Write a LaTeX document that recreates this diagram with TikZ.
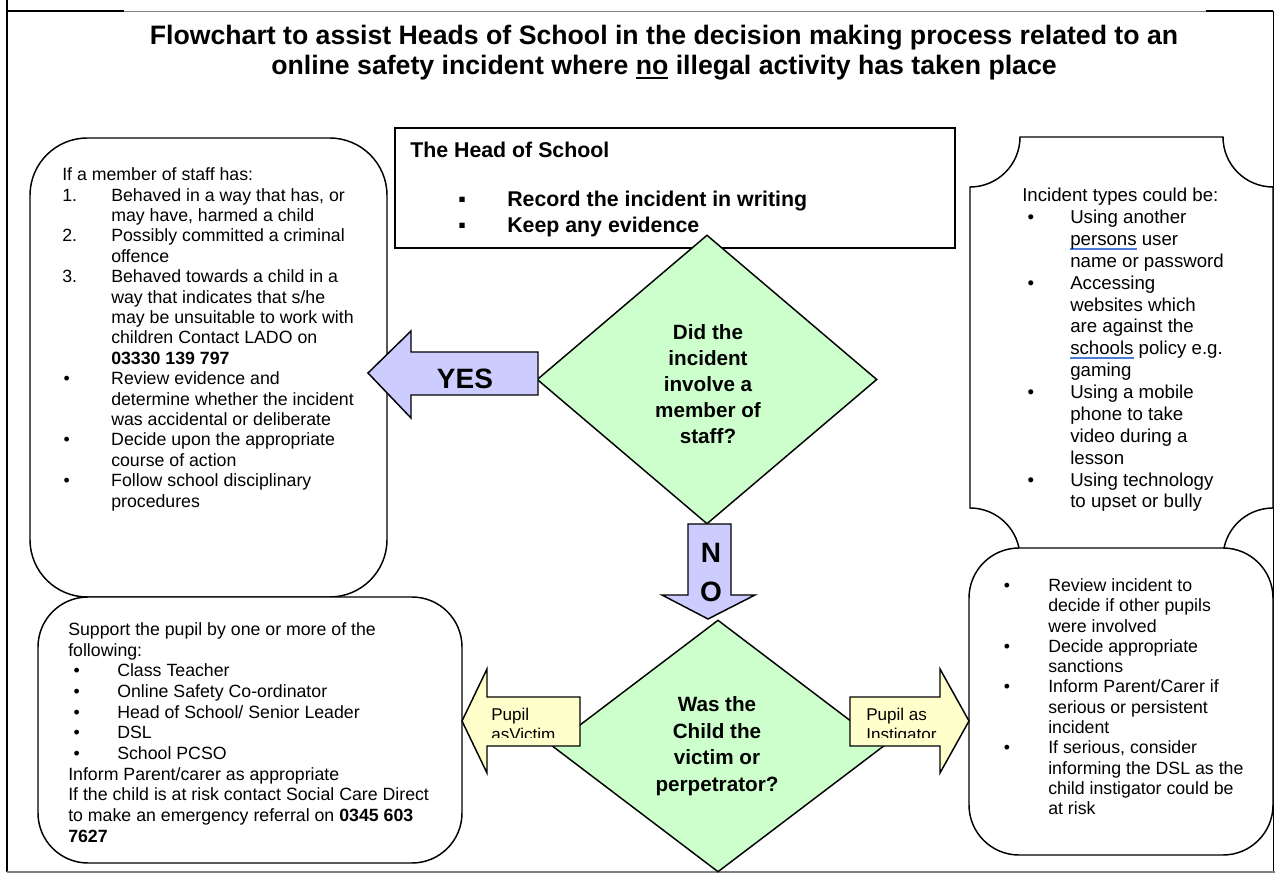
\documentclass[tikz,border=0pt]{standalone}
\usepackage{fontspec}
\setmainfont{Liberation Sans}
\usepackage{tikz}
\usetikzlibrary{shapes.geometric, fit}

\definecolor{lavender}{HTML}{CCCCFF}
\definecolor{mint}{HTML}{CCFFCC}
\definecolor{cream}{HTML}{FFFFCC}
\definecolor{spellblue}{HTML}{4A7BD8}
\definecolor{framegray}{HTML}{808080}

\newlength\indw
\newlength\bulsh
\newsavebox\ulbox
\newcommand{\setind}[2]{\global\indw=#1\global\bulsh=#2\relax}
\newcommand{\lab}[1]{\makebox[\indw][l]{#1}}
\newcommand{\bul}{\makebox[\indw][l]{\hspace*{\bulsh}•}}
\newcommand{\ind}{\hspace*{\indw}}
\newcommand{\ulc}[2]{\sbox\ulbox{#2}\rlap{\textcolor{#1}{\rule[-3.2pt]{\wd\ulbox}{1.3pt}}}#2}

\begin{document}
\begin{tikzpicture}[
  x=0.75pt, y=-0.75pt,
  box/.style={draw, line width=1.1pt, fill=white, inner sep=0pt},
  blk/.style={draw, line width=1.1pt, line join=miter},
  dia/.style={diamond, draw, line width=1.1pt, fill=mint, inner sep=0pt},
  txt/.style={align=left, inner sep=0pt, anchor=north west, font=\fontsize{13.3pt}{15.3pt}\selectfont},
  qtxt/.style={align=center, inner sep=0pt, font=\bfseries\fontsize{15.5pt}{19.5pt}\selectfont},
  big/.style={inner sep=0pt, font=\bfseries\fontsize{21pt}{22pt}\selectfont},
  lbl/.style={align=left, inner sep=0pt, anchor=north west, font=\fontsize{12.8pt}{15.2pt}\selectfont}
]
\useasboundingbox (0,0) rectangle (1275,873);

% page frame
\draw[framegray, line width=0.6pt] (7,11) -- (1273,11);
\draw[line width=1.2pt] (7,11) -- (124,11) (1206,11) -- (1273,11);
\draw[line width=0.9pt] (7,0) -- (7,872);
\draw[line width=0.6pt] (1273,11) -- (1273,872);
\draw[framegray, line width=0.8pt] (7,872) -- (1275,872);

% title
\node[align=center, inner sep=0pt, font=\bfseries\fontsize{20pt}{22.5pt}\selectfont] (title) at (664,52.5)
  {Flowchart to assist Heads of School in the decision making process related to an\\
   online safety incident where \ulc{black}{no} illegal activity has taken place};

% boxes
\node[box, rounded corners=43pt, fit={(30,138) (387,597)}] (staffbox) {};
\draw[box] (1020,137) -- (1223,137) .. controls (1223,164.6) and (1245.4,187) .. (1273,187)
  -- (1273,508) .. controls (1245.4,508) and (1223,530.4) .. (1223,558)
  -- (1020,558) .. controls (1020,530.4) and (997.6,508) .. (970,508)
  -- (970,187) .. controls (997.6,187) and (1020,164.6) .. (1020,137) -- cycle;
\node[box, fit={(395,128) (955,248)}] (head) {};
\node[box, rounded corners=37.5pt, fit={(38,597) (462,863)}] (victimbox) {};
\node[box, rounded corners=37.5pt, fit={(969,548) (1273,855)}] (instbox) {};

% decisions
\node[dia, minimum width=255pt, minimum height=216.75pt] (staffq) at (707,379.5) {};
\node[dia, minimum width=249pt, minimum height=189pt] (childq) at (718,746) {};

% block arrows
\draw[blk, fill=lavender] (538,352) -- (411,352) -- (411,331) -- (368,373) -- (411,418) -- (411,395) -- (538,395) -- cycle;
\draw[blk, fill=lavender] (688,524) -- (731,524) -- (731,595) -- (755,595) -- (708,619) -- (662,595) -- (688,595) -- cycle;
\draw[blk, fill=cream] (580,697) -- (487,697) -- (487,669) -- (462,721) -- (487,773) -- (487,746) -- (580,746) -- cycle;
\draw[blk, fill=cream] (850,697) -- (940,697) -- (940,669) -- (969,721) -- (940,773) -- (940,746) -- (850,746) -- cycle;

% arrow labels
\node[big] (yes) at (465,379) {YES};
\node[big] (n) at (711,553) {N};
\node[big] (o) at (711,592) {O};
\begin{scope}
  \clip (487,697) rectangle (580,737);
  \node[lbl] (pvictim) at (491,707.5) {Pupil\\asVictim};
\end{scope}
\begin{scope}
  \clip (850,697) rectangle (940,737);
  \node[lbl] (pinst) at (866,707.5) {Pupil as\\Instigator};
\end{scope}

% decision texts
\node[qtxt] (staffqt) at (708,384) {Did the\\incident\\involve a\\member of\\staff?};
\node[qtxt, font=\bfseries\fontsize{15.5pt}{20pt}\selectfont] (childqt) at (717,746) {Was the\\Child the\\victim or\\perpetrator?};

% head of school
\node[txt, font=\bfseries\fontsize{16pt}{19.5pt}\selectfont] (headt) at (410,142)
  {The Head of School\\[17.25pt]
   \hspace*{36pt}\makebox[36.75pt][l]{▪}Record the incident in writing\\
   \hspace*{36pt}\makebox[36.75pt][l]{▪}Keep any evidence};

% staff text
\node[txt] (stafft) at (62,167.5)
  {\setind{36.75pt}{1pt}%
   If a member of staff has:\\
   \lab{1.}Behaved in a way that has, or\\
   \ind may have, harmed a child\\
   \lab{2.}Possibly committed a criminal\\
   \ind offence\\
   \lab{3.}Behaved towards a child in a\\
   \ind way that indicates that s/he\\
   \ind may be unsuitable to work with\\
   \ind children Contact LADO on\\
   \ind\textbf{03330 139 797}\\
   \bul Review evidence and\\
   \ind determine whether the incident\\
   \ind was accidental or deliberate\\
   \bul Decide upon the appropriate\\
   \ind course of action\\
   \bul Follow school disciplinary\\
   \ind procedures};

% incident types
\node[txt, font=\fontsize{14pt}{16.4pt}\selectfont] (typest) at (1022,188)
  {\setind{36pt}{4pt}%
   Incident types could be:\\
   \bul Using another\\
   \ind\ulc{spellblue}{persons} user\\
   \ind name or password\\
   \bul Accessing\\
   \ind websites which\\
   \ind are against the\\
   \ind\ulc{spellblue}{schools} policy e.g.\\
   \ind gaming\\
   \bul Using a mobile\\
   \ind phone to take\\
   \ind video during a\\
   \ind lesson\\
   \bul Using technology\\
   \ind to upset or bully};

% victim support
\node[txt, font=\fontsize{13.3pt}{15.5pt}\selectfont] (victimt) at (68,622.5)
  {\setind{36.75pt}{4pt}%
   Support the pupil by one or more of the\\
   following:\\
   \bul Class Teacher\\
   \bul Online Safety Co-ordinator\\
   \bul Head of School/ Senior Leader\\
   \bul DSL\\
   \bul School PCSO\\
   Inform Parent/carer as appropriate\\
   If the child is at risk contact Social Care Direct\\
   to make an emergency referral on \textbf{0345 603}\\
   \textbf{7627}};

% instigator actions
\node[txt, font=\fontsize{13.3pt}{15.2pt}\selectfont] (instt) at (1001,578.5)
  {\setind{35.25pt}{2pt}%
   \bul Review incident to\\
   \ind decide if other pupils\\
   \ind were involved\\
   \bul Decide appropriate\\
   \ind sanctions\\
   \bul Inform Parent/Carer if\\
   \ind serious or persistent\\
   \ind incident\\
   \bul If serious, consider\\
   \ind informing the DSL as the\\
   \ind child instigator could be\\
   \ind at risk};
\end{tikzpicture}
\end{document}
